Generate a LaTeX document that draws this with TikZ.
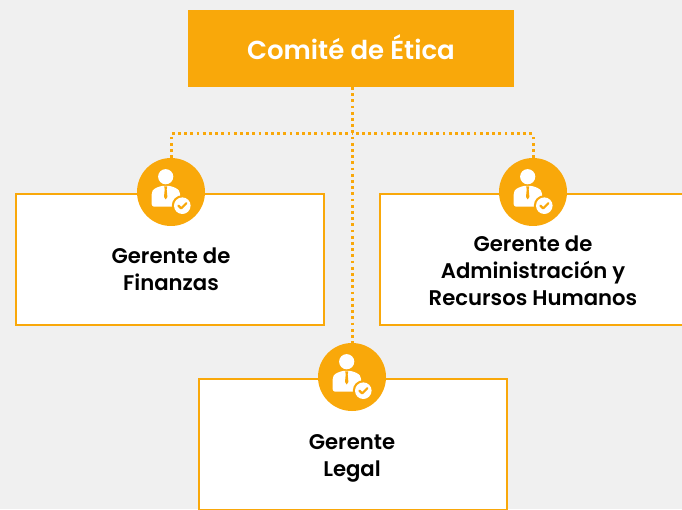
\documentclass[tikz,border=0pt]{standalone}
\usepackage{fontspec}
\setmainfont{Poppins}[BoldFont={Poppins SemiBold}]
\usetikzlibrary{calc}
\definecolor{gold}{HTML}{F9A80A}
\definecolor{page}{HTML}{F0F0F0}
\tikzset{
	pics/person/.style={
		code={
			\fill[white] (-5.3,15.3) circle (7.6);
			\fill[white,rounded corners=2.5pt] (-19.3,-14.7) -- (-19.3,0) -- (-17,3.3) -- (-9.5,6.2) -- (-1,6.2) -- (6.5,3.3) -- (9,0) -- (9,-14.7) -- cycle;
			\fill[gold] (-6.8,5.6) -- (-3.8,5.6) -- (-4.3,2.5) -- (-3.6,-5) -- (-5.3,-7.5) -- (-7,-5) -- (-6.3,2.5) -- cycle;
			\fill[gold] (11.3,-13.7) circle (10.5);
			\fill[white] (11.3,-13.7) circle (8.3);
			\draw[gold,line width=2.2pt,line cap=round,line join=round] (7.4,-13.7) -- (10.2,-16.4) -- (15.4,-11.2);
		}
	}
}
\begin{document}
\begin{tikzpicture}[x=1pt,y=1pt,% one unit is one pixel of the page
			every node/.style={
				align=center,  		% the "\\" breaks the lines
				inner sep=0pt,
				outer sep=0pt
			},
			titlebox/.style={rectangle,fill=gold,minimum width=326pt,minimum height=77pt,text=white,font=\bfseries\fontsize{26}{30}\selectfont},
			rolebox/.style={rectangle,draw=gold,line width=2pt,fill=white,minimum width=308pt,minimum height=131pt},
			rolename/.style={text=black,font=\bfseries\fontsize{21.2}{27}\selectfont},
			badge/.style={circle,fill=gold,minimum size=68pt},
			link/.style={draw=gold,line width=3pt,dash pattern=on 2.8pt off 3.4pt}
		]
		\useasboundingbox (0,0) rectangle (682,509);
		\clip (0,0) rectangle (682,509);
		\fill[page] (0,0) rectangle (682,509);
		\coordinate (J) at (352,375);

		\node[titlebox](R1) at (351,460.5){\raisebox{3pt}{Comité de Ética}};
		\node[rolebox](R2) at (170,249.5){};
		\node[rolebox](R3) at (534,249.5){};
		\node[rolebox](R4) at (353,64.5){};

		\node[rolename](T2) at (171,240){Gerente de\\Finanzas};
		\node[rolename](T3) at (533,238){Gerente de\\Administración y\\Recursos Humanos};
		\node[rolename](T4) at (352,50.5){Gerente\\Legal};

		\node[badge](B2) at (171,317){};
		\node[badge](B3) at (533,317){};
		\node[badge](B4) at (352,132){};
		\pic at (B2) {person};
		\pic at (B3) {person};
		\pic at (B4) {person};

		\path[link] (B4.north |- R1.south) -- (B4.north);
		\path[link] (B2.north) |- (J);
		\path[link] (B3.north) |- (J);
	\end{tikzpicture}
\end{document}
